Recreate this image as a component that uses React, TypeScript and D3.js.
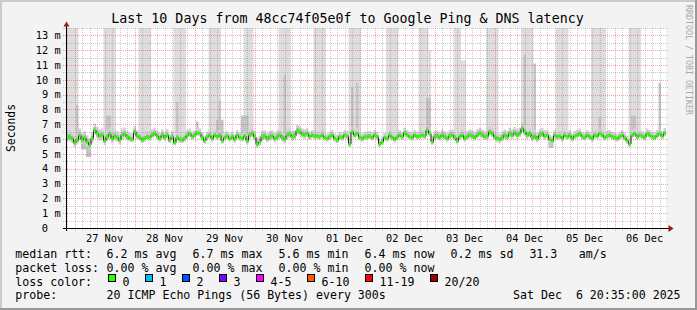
import React from "react";
import * as d3 from "d3";

const START = Date.UTC(2025, 10, 26, 20, 35);
const END = Date.UTC(2025, 11, 6, 20, 35);
const HOUR = 3600e3;

// hourly median rtt (ms)
const medianRtt = [
  6.15,6.15,6.03,5.75,5.93,6.26,5.93,6.10,5.81,5.60,6.03,6.60,6.37,6.20,6.26,5.88,6.15,6.33,6.03,6.20,6.10,5.93,6.26,6.33,
  6.15,6.03,5.97,6.49,6.20,6.10,5.93,6.03,6.15,6.10,6.26,6.37,6.20,6.03,6.26,6.10,6.26,5.93,6.15,5.75,6.10,5.97,5.93,6.03,
  6.26,6.37,6.15,6.26,6.42,6.37,6.10,5.88,6.15,6.26,6.03,6.26,6.15,6.26,5.88,6.10,6.20,6.03,6.15,5.97,6.26,6.10,6.03,6.20,
  5.88,6.26,6.37,6.15,5.66,5.81,6.15,6.20,6.03,6.15,6.20,6.03,6.15,6.26,6.10,5.97,6.26,6.33,6.15,6.20,6.56,6.49,6.33,6.26,
  6.37,6.15,6.26,6.20,6.20,6.15,6.26,6.10,6.03,6.15,6.26,6.03,5.93,6.15,6.10,6.26,6.20,5.66,6.49,6.26,6.37,6.10,6.03,6.15,
  6.15,6.20,6.10,6.26,6.15,5.66,5.81,6.10,6.03,6.26,6.10,5.97,6.15,6.26,6.15,6.42,6.26,6.15,6.10,6.26,6.15,6.20,6.26,6.20,
  6.60,6.37,5.81,6.15,6.20,6.10,6.26,6.15,6.03,6.20,6.26,6.10,5.88,6.15,6.26,6.03,6.15,6.26,6.20,6.10,6.26,6.37,6.26,6.15,
  6.20,6.49,6.37,6.15,6.03,5.97,6.10,6.26,6.15,6.37,6.26,6.42,6.26,6.37,6.71,6.49,6.26,6.37,6.10,6.20,6.03,6.26,6.37,6.20,
  6.26,5.97,5.88,6.26,6.15,6.20,6.03,6.26,6.15,6.26,6.03,6.20,6.26,6.37,6.15,6.10,6.26,6.15,6.03,6.26,6.20,6.37,6.26,6.10,
  6.20,6.26,6.15,6.10,6.03,6.15,6.26,6.10,5.88,5.66,6.26,6.37,6.15,6.26,6.20,6.10,6.37,6.26,6.15,6.10,6.26,6.37,6.20,6.40,
];

// per-day smoke spread (ms)
const smokeUpper = [0.45, 0.4, 0.35, 0.4, 0.35, 0.35, 0.4, 0.4, 0.35, 0.35];
const smokeLower = [0.3, 0.2, 0.2, 0.25, 0.2, 0.2, 0.2, 0.25, 0.2, 0.2];
const coreUpper = [0.2, 0.18, 0.15, 0.2, 0.15, 0.15, 0.2, 0.18, 0.15, 0.15];
const coreLower = [0.12, 0.1, 0.1, 0.12, 0.1, 0.1, 0.1, 0.12, 0.1, 0.1];

// tall smoke bands (hour index from, to, top ms)
const bandFrom = [0, 15, 29, 43, 57, 71, 85, 99, 113, 128, 141, 145, 155, 158, 168, 182, 196, 210, 225];
const bandTo = [5, 20, 34, 48, 62, 75, 90, 104, 118, 133, 145, 146, 158, 160, 173, 187, 201, 216, 230];
const bandTop = [13.5, 13.5, 13.5, 13.5, 13.5, 13.5, 13.5, 13.5, 13.5, 13.5, 13.5, 12.0, 13.5, 11.3, 13.5, 13.5, 13.5, 13.5, 13.5];

// darker smoke spikes
const spikeFrom = [4, 16, 44, 52, 60, 61, 70, 87, 114, 116, 144, 183, 187, 213, 226, 237];
const spikeTo = [5, 18, 45, 53, 63, 62, 73, 88, 115, 117, 146, 184, 188, 214, 228, 238];
const spikeTop = [8.3, 7.6, 8.5, 7.2, 7.3, 8.6, 7.6, 10.3, 9.5, 9.8, 8.8, 11.7, 11.1, 7.5, 7.6, 9.8];

// smoke below median
const dipFrom = [6, 8, 193];
const dipTo = [10, 10, 195];
const dipBottom = [5.3, 4.8, 5.4];

const dayLabels = ["27 Nov", "28 Nov", "29 Nov", "30 Nov", "01 Dec", "02 Dec", "03 Dec", "04 Dec", "05 Dec", "06 Dec"];
const yTickValues = [0, 1, 2, 3, 4, 5, 6, 7, 8, 9, 10, 11, 12, 13];

const statNames = ["avg", "max", "min", "now"];
const rttStats = [6.2, 6.7, 5.6, 6.4];
const rttSd = 0.2;
const ampsValue = 31.3;
const lossStats = [0, 0, 0, 0];
const lossLabels = ["0", "1", "2", "3", "4-5", "6-10", "11-19", "20/20"];
const lossColors = ["#26ff00", "#00b8ff", "#0059ff", "#7e00ff", "#ff00ff", "#ff5500", "#ff0000", "#a10000"];
const titleText = "Last 10 Days from 48cc74f05e0f to Google Ping & DNS latency";
const probeText = "20 ICMP Echo Pings (56 Bytes) every 300s";
const dateText = "Sat Dec  6 20:35:00 2025";

const W = 697;
const H = 310;
const MONO = "'DejaVu Sans Mono', monospace";

type P = { t: number; v: number; i: number };

export default function App() {
  const x = d3.scaleUtc().domain([new Date(START), new Date(END)]).range([66, 666]);
  const y = d3.scaleLinear().domain([0, 13.5]).range([228, 28]);
  const n = medianRtt.length;
  const pts: P[] = medianRtt.map((v, i) => ({ t: START + i * HOUR, v, i }));
  pts.push({ t: END, v: medianRtt[n - 1], i: n - 1 });
  const day = (i: number) => Math.min(9, Math.floor(i / 24));

  const area = (lo: (d: P) => number, hi: (d: P) => number) =>
    d3.area<P>().x((d) => x(new Date(d.t))).y0(lo).y1(hi).curve(d3.curveStepAfter);

  const seg = (a: number, b: number): P[] => {
    const s = pts.slice(a, b).map((d) => ({ ...d }));
    s.push({ t: START + b * HOUR, v: medianRtt[b - 1], i: b - 1 });
    return s;
  };

  const outerSmoke = area((d) => y(d.v - smokeLower[day(d.i)]), (d) => y(d.v + smokeUpper[day(d.i)]))(pts) || "";
  const coreSmoke = area((d) => y(d.v - coreLower[day(d.i)]), (d) => y(d.v + coreUpper[day(d.i)]))(pts) || "";
  const green = area((d) => y(d.v) + 1.3, (d) => y(d.v) - 1.3)(pts) || "";
  const medLine = d3.line<P>().x((d) => x(new Date(d.t))).y((d) => y(d.v)).curve(d3.curveStepAfter)(pts) || "";

  const bands = bandFrom.map((a, k) => area((d) => y(d.v), () => y(bandTop[k]))(seg(a, bandTo[k])) || "");
  const spikes = spikeFrom.map((a, k) => area((d) => y(d.v), () => y(spikeTop[k]))(seg(a, spikeTo[k])) || "");
  const dips = dipFrom.map((a, k) => area((d) => y(d.v), () => y(dipBottom[k]))(seg(a, dipTo[k])) || "");

  const vTimes = d3.utcHour.every(3)!.range(new Date(START), new Date(END));
  const hVals = d3.range(0.5, 13.51, 0.5);

  const noon = dayLabels.map((_, k) => new Date(Date.UTC(2025, 10, 27 + k, 12)));

  const col = (k: number) => 106.6 + k * 86;
  const rowY = [258.3, 272, 285.7, 299.4];

  const boxX: number[] = [];
  let bx = 108;
  lossLabels.forEach((l) => {
    boxX.push(bx);
    bx += 30 + 7 * l.length;
  });

  return (
    <svg width={W} height={H} style={{ position: "absolute", left: 0, top: 0, display: "block" }}>
      <rect x={0} y={0} width={W} height={H} fill="#F3F3F3" />
      <rect x={0} y={0} width={W} height={2} fill="#CBCBCB" />
      <rect x={0} y={0} width={2} height={H} fill="#CBCBCB" />
      <rect x={0} y={H - 2} width={W} height={2} fill="#999999" />
      <rect x={W - 2} y={0} width={2} height={H} fill="#999999" />

      <text x={347.5} y={23} textAnchor="middle" fontFamily={MONO} fontSize={13.3} fill="#000">{titleText}</text>

      <rect x={66} y={28} width={600} height={200} fill="#FFFFFF" />

      {bands.map((d, k) => <path key={"b" + k} d={d} fill="#DDDDDD" />)}
      {spikes.map((d, k) => <path key={"s" + k} d={d} fill="#C4C4C4" />)}
      {dips.map((d, k) => <path key={"d" + k} d={d} fill="#C4C4C4" />)}
      <path d={outerSmoke} fill="#D2D2D2" />
      <path d={coreSmoke} fill="#B2B2B2" />

      {hVals.map((v) => {
        const yy = Math.round(y(v)) + 0.5;
        const major = Number.isInteger(v);
        return (
          <line key={"h" + v} x1={63} x2={669} y1={yy} y2={yy}
            stroke={major ? "rgba(222,80,80,0.5)" : "rgba(143,143,143,0.46)"} strokeDasharray="1,1" />
        );
      })}
      {vTimes.map((t) => {
        const xx = Math.round(x(t)) + 0.5;
        const major = t.getUTCHours() === 0;
        return (
          <line key={"v" + +t} x1={xx} x2={xx} y1={28} y2={231}
            stroke={major ? "rgba(222,80,80,0.5)" : "rgba(143,143,143,0.46)"} strokeDasharray="1,1" />
        );
      })}

      <path d={medLine} fill="none" stroke="#202020" strokeWidth={1} />
      <path d={green} fill="#26ff00" />

      <line x1={63} x2={669} y1={228.5} y2={228.5} stroke="#000" strokeWidth={1} />
      <line x1={66.5} x2={66.5} y1={231} y2={26} stroke="#000" strokeWidth={1} />
      <path d="M668.5,225 L673.5,228.5 L668.5,232 Z" fill="#9b1b1b" />
      <path d="M63.5,26.5 L69.5,26.5 L66.5,21.5 Z" fill="#9b1b1b" />

      {noon.map((t, k) => (
        <text key={"xl" + k} x={x(t)} y={241.5} textAnchor="middle" fontFamily={MONO} fontSize={10.3} fill="#000">
          {dayLabels[k]}
        </text>
      ))}
      {yTickValues.map((v) => (
        <text key={"yl" + v} x={v === 0 ? 47.9 : 60.6} y={y(v) + 3.7} textAnchor="end" fontFamily={MONO} fontSize={10.3} fill="#000">
          {v === 0 ? "0" : `${v} m`}
        </text>
      ))}

      <text transform="translate(15,128) rotate(-90)" textAnchor="middle" fontFamily={MONO} fontSize={11.4} fill="#000">Seconds</text>
      <text transform="translate(685.5,5) rotate(90)" fontFamily={MONO} fontSize={8.3} fill="#A8A8A8">RRDTOOL / TOBI OETIKER</text>

      <g fontFamily={MONO} fontSize={11.6} fill="#000">
        <text x={15.3} y={rowY[0]}>median rtt:</text>
        {rttStats.map((v, k) => (
          <text key={"r" + k} x={col(k)} y={rowY[0]}>{`${v.toFixed(1)} ms ${statNames[k]}`}</text>
        ))}
        <text x={col(4)} y={rowY[0]}>{`${rttSd.toFixed(1)} ms sd`}</text>
        <text x={529.4} y={rowY[0]}>{ampsValue.toFixed(1)}</text>
        <text x={578.7} y={rowY[0]}>am/s</text>

        <text x={15.3} y={rowY[1]}>packet loss:</text>
        {lossStats.map((v, k) => (
          <text key={"l" + k} x={col(k)} y={rowY[1]}>{`${v.toFixed(2)} % ${statNames[k]}`}</text>
        ))}

        <text x={15.3} y={rowY[2]}>loss color:</text>
        {lossLabels.map((l, k) => (
          <g key={"lc" + k}>
            <rect x={boxX[k] + 0.5} y={274.5} width={7} height={7} fill={lossColors[k]} stroke="#000" strokeWidth={1} />
            <text x={boxX[k] + 14.5} y={rowY[2]}>{l}</text>
          </g>
        ))}

        <text x={15.3} y={rowY[3]}>probe:</text>
        <text x={col(0)} y={rowY[3]}>{probeText}</text>
        <text x={680.6} y={rowY[3]} textAnchor="end" style={{ whiteSpace: "pre" }}>{dateText}</text>
      </g>
    </svg>
  );
}
